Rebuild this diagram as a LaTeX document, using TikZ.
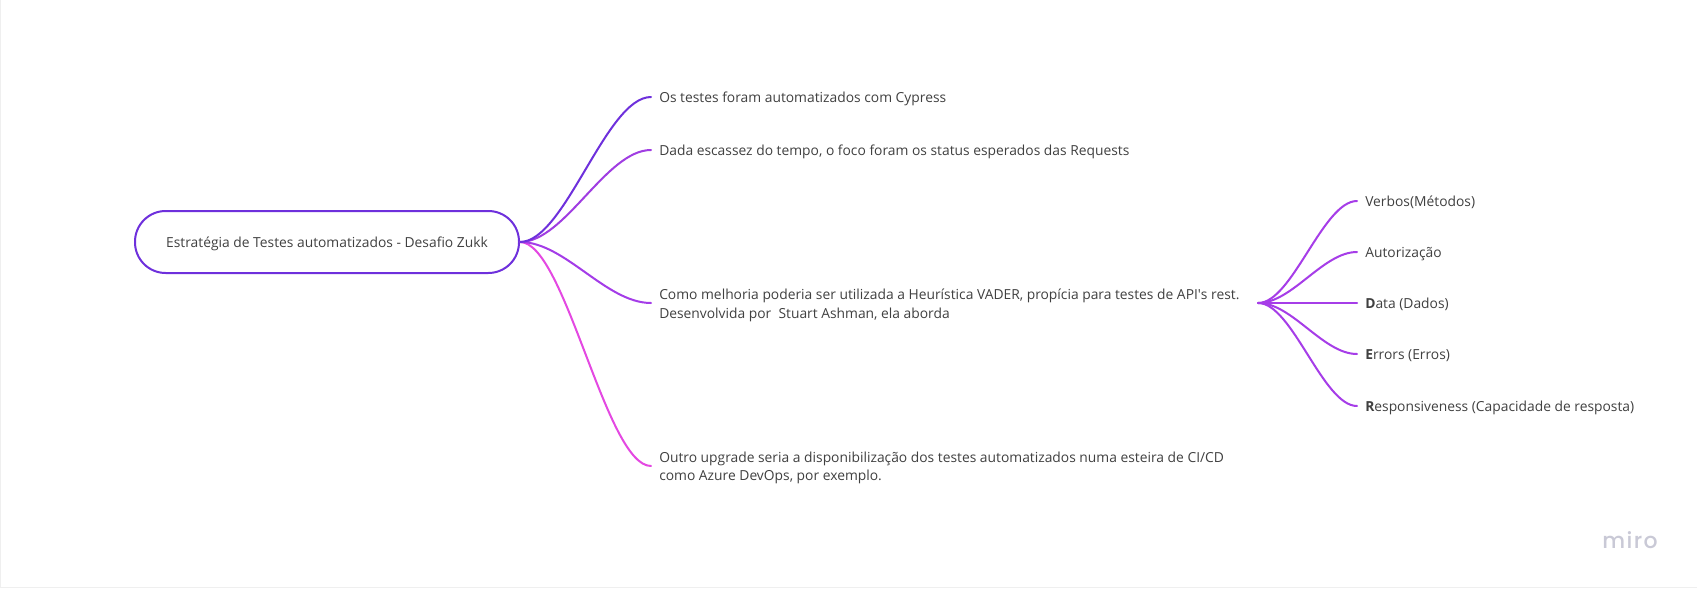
\documentclass[tikz,border=0pt]{standalone}
\usepackage{fontspec}
\setmainfont{Open Sans}
\newfontfamily\plainquote{Open Sans}
\newfontfamily\logofont[LetterSpace=6]{Poppins Medium}
\definecolor{inktext}{HTML}{404040}
\definecolor{cA}{HTML}{6E30DC}
\definecolor{cB}{HTML}{A03DE2}
\definecolor{cC}{HTML}{A43CE8}
\definecolor{cD}{HTML}{E448E2}
\definecolor{cS}{HTML}{A63DE8}
\definecolor{frame}{HTML}{EFEFEF}
\definecolor{logocol}{HTML}{C9C9D6}
\tikzset{
 x=0.75pt,y=-0.75pt,
 lbl/.style={anchor=west,inner xsep=6pt,inner ysep=0pt,text=inktext,font=\fontsize{10.37}{13.8}\selectfont},
 oneline/.style={lbl,text height=9pt,text depth=1.5pt},
 twolines/.style={lbl,text width=443pt,align=flush left,text depth=13pt},
 rootbox/.style={draw=cA,line width=1.5pt,rounded corners=23pt,minimum width=288pt,minimum height=46.5pt,inner sep=0pt,text=inktext,text height=9pt,text depth=1.5pt,font=\fontsize{10.37}{13.8}\selectfont},
 link/.style={line width=1.5pt,line cap=round},
}
\begin{document}
\begin{tikzpicture}
\useasboundingbox (0,0) rectangle (1697,589);
\fill[white] (0,0) rectangle (1697,589);
\draw[frame,line width=0.75pt] (0.5,0) -- (0.5,587.5) -- (1697,587.5);
\node[rootbox] (root) at (327,242) {Estratégia de Testes automatizados - Desafio Zukk};
\node[oneline] (n1) at (651,97) {Os testes foram automatizados com Cypress};
\node[oneline] (n2) at (651,150) {Dada escassez do tempo, o foco foram os status esperados das Requests};
\node[twolines] (n3) at (651,303) {Como melhoria poderia ser utilizada a Heurística VADER, propícia para testes de API{\plainquote'}s rest.\\Desenvolvida por\ \ Stuart Ashman, ela aborda};
\node[twolines] (n4) at (651,466) {Outro upgrade seria a disponibilização dos testes automatizados numa esteira de CI/CD\\como Azure DevOps, por exemplo.};
\node[oneline] (s1) at (1357,201) {Verbos(Métodos)};
\node[oneline] (s2) at (1357,252) {Autorização};
\node[oneline] (s3) at (1357,303) {\textbf{D}ata (Dados)};
\node[oneline] (s4) at (1357,354) {\textbf{E}rrors (Erros)};
\node[oneline] (s5) at (1357,406) {\textbf{R}esponsiveness (Capacidade de resposta)};
\node[anchor=center,inner sep=0pt,text=logocol,font=\logofont\fontsize{16.5}{18}\selectfont] (logo) at (1630,540) {miro};
\draw[link,cD] (root.east) .. controls +(45,0) and +(-45,0) .. (n4.west);
\draw[link,cC] (root.east) .. controls +(45,0) and +(-45,0) .. (n3.west);
\draw[link,cB] (root.east) .. controls +(45,0) and +(-45,0) .. (n2.west);
\draw[link,cA] (root.east) .. controls +(45,0) and +(-45,0) .. (n1.west);
\foreach \t in {s1,s2,s3,s4,s5}
  \draw[link,cS] (n3.east) .. controls +(34,0) and +(-34,0) .. (\t.west);
\end{tikzpicture}
\end{document}
